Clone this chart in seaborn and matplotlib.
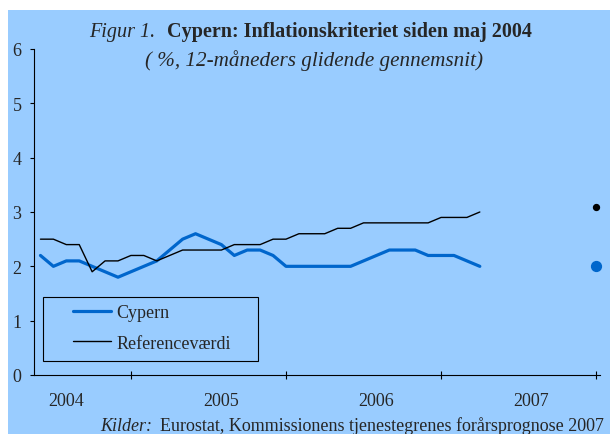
import matplotlib
matplotlib.use('Agg')
import seaborn as sns
import pandas as pd
import matplotlib.pyplot as plt
from matplotlib.patches import Rectangle

# Monthly values from May 2004 (12-month moving average, %)
cypern = [2.2, 2.0, 2.1, 2.1, 2.0, 1.9, 1.8, 1.9, 2.0, 2.1, 2.3, 2.5, 2.6, 2.5, 2.4,
          2.2, 2.3, 2.3, 2.2, 2.0, 2.0, 2.0, 2.0, 2.0, 2.0, 2.1, 2.2, 2.3, 2.3, 2.3,
          2.2, 2.2, 2.2, 2.1, 2.0]
reference = [2.5, 2.5, 2.4, 2.4, 1.9, 2.1, 2.1, 2.2, 2.2, 2.1, 2.2, 2.3, 2.3, 2.3, 2.3,
             2.4, 2.4, 2.4, 2.5, 2.5, 2.6, 2.6, 2.6, 2.7, 2.7, 2.8, 2.8, 2.8, 2.8, 2.8,
             2.8, 2.9, 2.9, 2.9, 3.0]
# spring forecast for end of 2007
forecast_month = 43
forecast_cypern = 2.0
forecast_reference = 3.1

year_labels = ['2004', '2005', '2006', '2007']
year_label_pos = [2, 14, 26, 38]
year_tick_pos = [7, 19, 31, 43]

df = pd.DataFrame({'month': range(len(cypern)), 'Cypern': cypern, 'Referenceværdi': reference})

sns.set_style('ticks')
plt.rcParams['font.family'] = ['Liberation Serif', 'DejaVu Serif']

W, H = 610, 435
fig = plt.figure(figsize=(6.1, 4.35), dpi=100)
fig.patches.append(Rectangle((8 / W, 0), 1, 424 / H, transform=fig.transFigure,
                             facecolor='#99CCFF', edgecolor='none', zorder=-5))

ax = fig.add_axes([34 / W, 1 - 376 / H, 566 / W, 326 / H])
ax.set_facecolor('none')

sns.lineplot(data=df, x='month', y='Cypern', color='#0066CC', linewidth=2.3, label='Cypern', ax=ax)
sns.lineplot(data=df, x='month', y='Referenceværdi', color='black', linewidth=1.0, label='Referenceværdi', ax=ax)
ax.scatter([forecast_month], [forecast_cypern], s=50, color='#0066CC', zorder=5, clip_on=False)
ax.scatter([forecast_month], [forecast_reference], s=18, color='black', zorder=5, clip_on=False)

ax.set_xlim(-0.5, 43.3)
ax.set_ylim(0, 6)
ax.set_yticks(range(0, 7))
ax.set_xticks(year_tick_pos)
ax.set_xticklabels([])
ax.set_xticks(year_label_pos, minor=True)
ax.set_xticklabels(year_labels, minor=True)
ax.tick_params(axis='x', which='major', direction='inout', length=6, width=0.8, color='black')
ax.tick_params(axis='x', which='minor', length=0, pad=12.5, labelsize=13)
ax.tick_params(axis='y', direction='out', length=3, width=0.8, pad=6, labelsize=13, color='black')
ax.set_xlabel('')
ax.set_ylabel('')
sns.despine(ax=ax)
for s in ['left', 'bottom']:
    ax.spines[s].set_linewidth(0.8)
    ax.spines[s].set_color('black')

# legend with a separate frame
leg = ax.legend(loc='upper left', bbox_to_anchor=(73 / W, 1 - 305 / H), bbox_transform=fig.transFigure,
                frameon=False, fontsize=13, borderpad=0, borderaxespad=0,
                handlelength=2.1, handletextpad=0.3, labelspacing=0.75)
fig.patches.append(Rectangle((43 / W, 1 - 362 / H), 215 / W, 64 / H, transform=fig.transFigure,
                             facecolor='none', edgecolor='black', linewidth=0.8))

fig.text(89 / W, 1 - 37 / H, 'Figur 1.', style='italic', fontsize=14.5, va='baseline')
fig.text(167 / W, 1 - 37 / H, 'Cypern: Inflationskriteriet siden maj 2004', weight='bold',
         fontsize=14.5, va='baseline')
fig.text(314 / W, 1 - 66 / H, '( %, 12-måneders glidende gennemsnit)', style='italic',
         fontsize=15.2, ha='center', va='baseline')
fig.text(100 / W, 1 - 431 / H, 'Kilder:', style='italic', fontsize=13, va='baseline')
fig.text(160 / W, 1 - 431 / H, 'Eurostat, Kommissionens tjenestegrenes forårsprognose 2007',
         fontsize=13, va='baseline')

fig.savefig('out.png', dpi=100)
